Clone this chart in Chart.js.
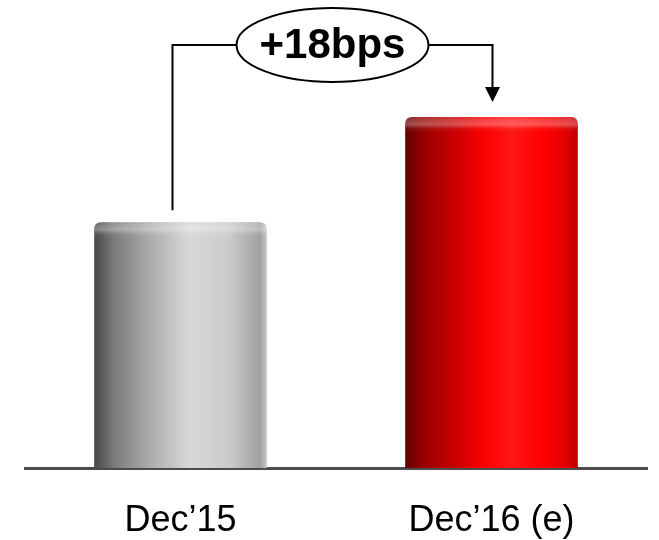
<!DOCTYPE html>
<html>
<head>
<meta charset="utf-8">
<script src="https://cdn.jsdelivr.net/npm/chart.js@4/dist/chart.umd.min.js"></script>
<style>
  html, body { margin: 0; padding: 0; background: #fff; }
  #wrap { width: 659px; height: 540px; position: relative; }
</style>
</head>
<body>
<div id="wrap"><canvas id="myChart"></canvas></div>
<script>
// period labels and ratio values (bps)
const periods = ['Dec\u201915', 'Dec\u201916 (e)'];
const ratioValues = [42, 60];
const changeLabel = '+18bps';

// left-to-right shading for each cylinder
const barShades = [
    [[0, '#474747'], [0.12, '#7c7c7c'], [0.32, '#ababab'], [0.55, '#d8d8d8'], [0.78, '#cbcbcb'], [0.96, '#a0a0a0'], [1, '#c8c8c8']],
    [[0, '#5e0000'], [0.1, '#960000'], [0.28, '#c80000'], [0.45, '#fa0000'], [0.62, '#ff1616'], [0.8, '#ff0000'], [0.95, '#dc0000'], [1, '#b80000']],
];

// paints the bars as shaded cylinders with a rounded top rim
const cylinderPlugin = {
    id: 'cylinder',
    afterDatasetsDraw(chart) {
        const ctx = chart.ctx;
        const meta = chart.getDatasetMeta(0);
        meta.data.forEach((bar, i) => {
            const { x, y, base, width } = bar.getProps(['x', 'y', 'base', 'width'], true);
            const left = x - width / 2;
            const right = x + width / 2;
            const r = 7;

            const grad = ctx.createLinearGradient(left, 0, right, 0);
            barShades[i].forEach(([stop, color]) => grad.addColorStop(stop, color));

            ctx.save();
            ctx.beginPath();
            ctx.moveTo(left, base);
            ctx.lineTo(left, y + r);
            ctx.quadraticCurveTo(left, y, left + r, y);
            ctx.lineTo(right - r, y);
            ctx.quadraticCurveTo(right, y, right, y + r);
            ctx.lineTo(right, base);
            ctx.closePath();
            ctx.fillStyle = grad;
            ctx.fill();
            ctx.clip();

            // rim highlight near the top
            const rim = ctx.createLinearGradient(0, y, 0, y + 16);
            rim.addColorStop(0, 'rgba(255,255,255,0.18)');
            rim.addColorStop(0.45, 'rgba(255,255,255,0.32)');
            rim.addColorStop(0.75, 'rgba(255,255,255,0.05)');
            rim.addColorStop(1, 'rgba(255,255,255,0)');
            ctx.fillStyle = rim;
            ctx.fillRect(left, y, width, 16);
            ctx.restore();
        });
    }
};

// bracket from the first bar to the second with the change bubble
const changePlugin = {
    id: 'changeBracket',
    afterDraw(chart) {
        const ctx = chart.ctx;
        const meta = chart.getDatasetMeta(0);
        const a = meta.data[0];
        const b = meta.data[1];
        const topY = chart.chartArea.top + 45;
        const x1 = a.x - 8;
        const x2 = b.x + 1;
        const cx = (x1 + x2) / 2;
        const rx = 96, ry = 37;

        ctx.save();
        ctx.strokeStyle = '#000';
        ctx.fillStyle = '#000';
        ctx.lineWidth = 2;

        ctx.beginPath();
        ctx.moveTo(x1, a.y - 12);
        ctx.lineTo(x1, topY);
        ctx.lineTo(cx - rx, topY);
        ctx.moveTo(cx + rx, topY);
        ctx.lineTo(x2, topY);
        ctx.lineTo(x2, b.y - 28);
        ctx.stroke();

        // arrow head
        ctx.beginPath();
        ctx.moveTo(x2 - 7.5, b.y - 30);
        ctx.lineTo(x2 + 7.5, b.y - 30);
        ctx.lineTo(x2, b.y - 15);
        ctx.closePath();
        ctx.fill();

        ctx.beginPath();
        ctx.ellipse(cx, topY, rx, ry, 0, 0, Math.PI * 2);
        ctx.fillStyle = '#fff';
        ctx.fill();
        ctx.stroke();

        ctx.fillStyle = '#000';
        ctx.font = 'bold 42px "Liberation Sans", Arial, sans-serif';
        ctx.textAlign = 'center';
        ctx.textBaseline = 'middle';
        ctx.fillText(changeLabel, cx, topY + 1);
        ctx.restore();
    }
};

new Chart(document.getElementById('myChart'), {
    type: 'bar',
    data: {
        labels: periods,
        datasets: [{
            data: ratioValues,
            backgroundColor: 'rgba(0,0,0,0)',
            borderWidth: 0,
            categoryPercentage: 1,
            barPercentage: 0.555,
        }],
    },
    options: {
        responsive: true,
        maintainAspectRatio: false,
        animation: false,
        layout: { padding: { left: 25, right: 12, top: 0, bottom: 0 } },
        plugins: {
            legend: { display: false },
            tooltip: { enabled: false },
        },
        scales: {
            x: {
                grid: { display: false, drawTicks: false },
                border: { display: true, color: '#4d4d4d', width: 3 },
                ticks: {
                    color: '#000',
                    padding: 31,
                    font: { family: '"Liberation Sans", Arial, sans-serif', size: 36 },
                },
                // keep the axis band fixed so the baseline sits low
                afterFit(scale) {
                    scale.height = 72;
                },
            },
            y: {
                display: false,
                min: 0,
                max: 80,
            },
        },
    },
    plugins: [cylinderPlugin, changePlugin],
});
</script>
</body>
</html>
